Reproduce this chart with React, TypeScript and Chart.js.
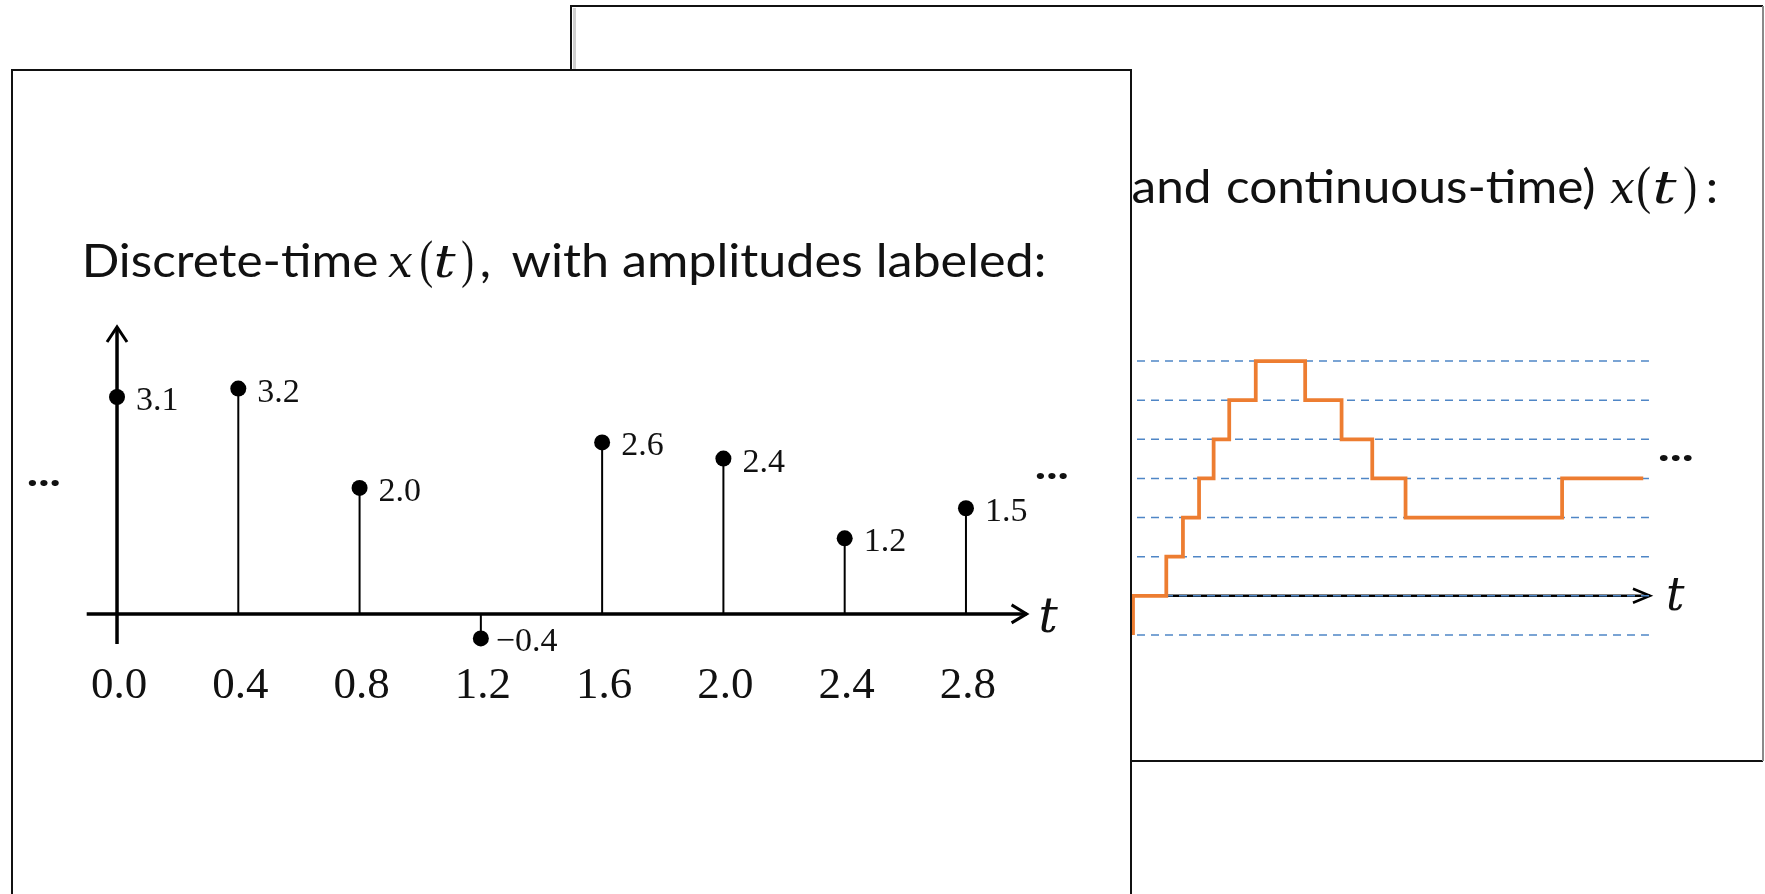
import React, { useEffect, useRef } from "react";
import { Chart, registerables } from "chart.js";

Chart.register(...registerables);

// ---------- data (front slide: discrete-time samples) ----------
const sampleTimes = [0, 0.4, 0.8, 1.2, 1.6, 2.0, 2.4, 2.8];
const amplitudeLabels = ["3.1", "3.2", "2.0", "\u22120.4", "2.6", "2.4", "1.2", "1.5"];
// stem heights as drawn in the picture (amplitude units)
const stemHeights = [3.1, 3.22, 1.8, -0.35, 2.45, 2.22, 1.08, 1.51];
const timeTickLabels = ["0.0", "0.4", "0.8", "1.2", "1.6", "2.0", "2.4", "2.8"];

// ---------- data (back slide: quantized continuous-time signal) ----------
const stepTimes = [0, 0.64, 0.96, 1.27, 1.55, 1.85, 2.36, 3.31, 4.01, 4.6, 5.24, 8.25, 9.81];
const stepLevels = [-1, 0, 1, 2, 3, 4, 5, 6, 5, 4, 3, 2, 3];
const quantLevels = [-1, 0, 1, 2, 3, 4, 5, 6];

const W = 1765;
const H = 894;
const TEXT = "#111111";
const SANS = "46px Lato";
const MATH_I = "italic 44px 'DejaVu Serif'";
const MATH_P = "52px 'Liberation Serif'";
const DOTS = "bold 40px Lato";

type InkOpts = { width?: number; sx?: number; right?: number };

function inkText(ctx: CanvasRenderingContext2D, text: string, font: string, left: number, baseline: number, opts: InkOpts = {}) {
  ctx.save();
  ctx.font = font;
  ctx.textAlign = "left";
  ctx.textBaseline = "alphabetic";
  const m = ctx.measureText(text);
  const inkL = m.actualBoundingBoxLeft;
  const inkW = m.actualBoundingBoxLeft + m.actualBoundingBoxRight;
  let sx = opts.sx ?? 1;
  if (opts.width) sx = opts.width / inkW;
  let x = left;
  if (opts.right != null) x = opts.right - inkW * sx;
  ctx.translate(x + inkL * sx, baseline);
  ctx.scale(sx, 1);
  ctx.fillText(text, 0, 0);
  ctx.restore();
  return sx;
}

function arrowHead(ctx: CanvasRenderingContext2D, tx: number, ty: number, dx: number, dy: number, len: number, half: number) {
  const bx = tx - dx * len;
  const by = ty - dy * len;
  const px = -dy;
  const py = dx;
  ctx.beginPath();
  ctx.moveTo(bx + px * half, by + py * half);
  ctx.lineTo(tx, ty);
  ctx.lineTo(bx - px * half, by - py * half);
  ctx.stroke();
}

const backPlugin = {
  id: "backSlide",
  beforeDraw(chart: any) {
    const ctx: CanvasRenderingContext2D = chart.ctx;
    ctx.save();
    // slide
    ctx.fillStyle = "#ffffff";
    ctx.fillRect(570, 5, 1194, 756);
    ctx.lineWidth = 2;
    ctx.strokeStyle = "#111";
    ctx.beginPath();
    ctx.moveTo(1763, 6);
    ctx.lineTo(571, 6);
    ctx.lineTo(571, 761);
    ctx.lineTo(1763, 761);
    ctx.stroke();
    ctx.strokeStyle = "#8a8a8a";
    ctx.beginPath();
    ctx.moveTo(1763, 6);
    ctx.lineTo(1763, 761);
    ctx.stroke();
    ctx.strokeStyle = "#d0d0d0";
    ctx.lineWidth = 3;
    ctx.beginPath();
    ctx.moveTo(574.5, 8);
    ctx.lineTo(574.5, 760);
    ctx.stroke();

    // title
    ctx.fillStyle = TEXT;
    const sx = inkText(ctx, "continuous-time)", SANS, 1227, 203, { width: 367 });
    inkText(ctx, "and", SANS, 0, 203, { sx, right: 1208.6 });
    inkText(ctx, "x", MATH_I, 1610, 203, { width: 25 });
    inkText(ctx, "(", MATH_P, 1638, 203, { width: 12 });
    inkText(ctx, "t", MATH_I, 1655, 203, { width: 22 });
    inkText(ctx, ")", MATH_P, 1684, 203, { width: 12 });
    inkText(ctx, ":", SANS, 1708, 203, { sx });
    ctx.restore();
  },
  beforeDatasetsDraw(chart: any) {
    const ctx: CanvasRenderingContext2D = chart.ctx;
    const xs = chart.scales.x;
    const ys = chart.scales.y;
    const area = chart.chartArea;
    const y0 = ys.getPixelForValue(0);
    ctx.save();
    // axis
    ctx.strokeStyle = "#000";
    ctx.lineWidth = 2.5;
    ctx.beginPath();
    ctx.moveTo(area.left, y0);
    ctx.lineTo(area.right, y0);
    ctx.stroke();
    arrowHead(ctx, area.right, y0, 1, 0, 17, 7);
    // dashed quantization levels
    const dashEnd = xs.getPixelForValue(9.92);
    ctx.strokeStyle = "#4f86c6";
    ctx.lineWidth = 1.5;
    ctx.setLineDash([8, 6]);
    quantLevels.forEach((lv) => {
      const py = ys.getPixelForValue(lv);
      ctx.beginPath();
      ctx.moveTo(area.left, py);
      ctx.lineTo(dashEnd, py);
      ctx.stroke();
    });
    ctx.setLineDash([]);
    // labels
    ctx.fillStyle = TEXT;
    inkText(ctx, "t", "italic 46px 'DejaVu Serif'", area.right + 18, y0 + 14, {});
    inkText(ctx, "...", DOTS, 1659, 461, { width: 33 });
    ctx.restore();
  },
};

const frontPlugin = {
  id: "frontSlide",
  beforeDraw(chart: any) {
    const ctx: CanvasRenderingContext2D = chart.ctx;
    ctx.save();
    ctx.fillStyle = "#ffffff";
    ctx.fillRect(12, 70, 1119, H);
    ctx.strokeStyle = "#111";
    ctx.lineWidth = 2;
    ctx.strokeRect(12, 70, 1119, H + 40);
    // title
    ctx.fillStyle = TEXT;
    const b = 277;
    const sx = inkText(ctx, "Discrete-time", SANS, 86, b, { width: 291 });
    inkText(ctx, "x", MATH_I, 388, b, { width: 25 });
    inkText(ctx, "(", MATH_P, 421, b, { width: 11 });
    inkText(ctx, "t", MATH_I, 436, b, { width: 20 });
    inkText(ctx, ")", MATH_P, 462, b, { width: 11 });
    inkText(ctx, ",", SANS, 482, b, { sx });
    inkText(ctx, "with amplitudes labeled:", SANS, 511.5, b, { width: 532 });
    ctx.restore();
  },
  beforeDatasetsDraw(chart: any) {
    const ctx: CanvasRenderingContext2D = chart.ctx;
    const xs = chart.scales.x;
    const ys = chart.scales.y;
    const area = chart.chartArea;
    const y0 = ys.getPixelForValue(0);
    const x0 = xs.getPixelForValue(0);
    ctx.save();
    ctx.strokeStyle = "#000";
    // stems
    ctx.lineWidth = 2;
    sampleTimes.forEach((t, i) => {
      const px = xs.getPixelForValue(t);
      ctx.beginPath();
      ctx.moveTo(px, y0);
      ctx.lineTo(px, ys.getPixelForValue(stemHeights[i]));
      ctx.stroke();
    });
    // axes
    ctx.lineWidth = 3.5;
    ctx.beginPath();
    ctx.moveTo(area.left, y0);
    ctx.lineTo(area.right, y0);
    ctx.stroke();
    ctx.beginPath();
    ctx.moveTo(x0, area.bottom);
    ctx.lineTo(x0, area.top);
    ctx.stroke();
    ctx.lineWidth = 3;
    arrowHead(ctx, area.right, y0, 1, 0, 15, 9);
    arrowHead(ctx, x0, area.top, 0, -1, 15, 10);
    // tick labels
    ctx.fillStyle = TEXT;
    ctx.font = "45px 'Liberation Serif'";
    ctx.textAlign = "center";
    ctx.textBaseline = "alphabetic";
    sampleTimes.forEach((t, i) => {
      ctx.fillText(timeTickLabels[i], xs.getPixelForValue(t) + 2, 698);
    });
    // t label and ellipses
    inkText(ctx, "t", "italic 48px 'DejaVu Serif'", area.right + 14, y0 + 18, {});
    inkText(ctx, "...", DOTS, 28, 486, { width: 31 });
    inkText(ctx, "...", DOTS, 1036, 479, { width: 31 });
    ctx.restore();
  },
  afterDatasetsDraw(chart: any) {
    const ctx: CanvasRenderingContext2D = chart.ctx;
    const xs = chart.scales.x;
    const ys = chart.scales.y;
    ctx.save();
    ctx.fillStyle = TEXT;
    ctx.font = "34px 'Liberation Serif'";
    ctx.textAlign = "left";
    ctx.textBaseline = "alphabetic";
    sampleTimes.forEach((t, i) => {
      const px = xs.getPixelForValue(t);
      const py = ys.getPixelForValue(stemHeights[i]);
      if (stemHeights[i] < 0) {
        ctx.fillText(amplitudeLabels[i], px + 15, py + 13);
      } else {
        ctx.fillText(amplitudeLabels[i], px + 19, py + 13);
      }
    });
    ctx.restore();
  },
};

export default function App() {
  const backRef = useRef<HTMLCanvasElement>(null);
  const frontRef = useRef<HTMLCanvasElement>(null);

  useEffect(() => {
    const back = new Chart(backRef.current as HTMLCanvasElement, {
      type: "line",
      data: {
        datasets: [
          {
            data: stepTimes.map((t, i) => ({ x: t, y: stepLevels[i] })),
            stepped: "after",
            borderColor: "#ed7d31",
            borderWidth: 3.75,
            pointRadius: 0,
            fill: false,
          } as any,
        ],
      },
      options: {
        responsive: false,
        animation: false,
        devicePixelRatio: 1,
        layout: { padding: { left: 1081, right: 115, top: 322, bottom: 220 } },
        scales: {
          x: { type: "linear", min: -1, max: 9.94, display: false },
          y: { type: "linear", min: -2, max: 7, display: false },
        },
        plugins: { legend: { display: false }, tooltip: { enabled: false } },
        events: [],
      },
      plugins: [backPlugin],
    });

    const front = new Chart(frontRef.current as HTMLCanvasElement, {
      type: "scatter",
      data: {
        datasets: [
          {
            data: sampleTimes.map((t, i) => ({ x: t, y: stemHeights[i] })),
            pointRadius: 8,
            pointBackgroundColor: "#000",
            pointBorderColor: "#000",
            pointBorderWidth: 0,
            showLine: false,
            clip: false,
          } as any,
        ],
      },
      options: {
        responsive: false,
        animation: false,
        devicePixelRatio: 1,
        layout: { padding: { left: 86.7, right: 738.4, top: 327, bottom: 250 } },
        scales: {
          x: { type: "linear", min: -0.1, max: 3.0, display: false },
          y: { type: "linear", min: -0.43, max: 4.1, display: false },
        },
        plugins: { legend: { display: false }, tooltip: { enabled: false } },
        events: [],
      },
      plugins: [frontPlugin],
    });

    return () => {
      back.destroy();
      front.destroy();
    };
  }, []);

  const canvasStyle: React.CSSProperties = { position: "absolute", left: 0, top: 0, width: W, height: H };
  return (
    <div style={{ position: "absolute", left: 0, top: 0, width: W, height: H, overflow: "hidden", background: "#fff" }}>
      <canvas ref={backRef} width={W} height={H} style={canvasStyle} />
      <canvas ref={frontRef} width={W} height={H} style={canvasStyle} />
    </div>
  );
}
